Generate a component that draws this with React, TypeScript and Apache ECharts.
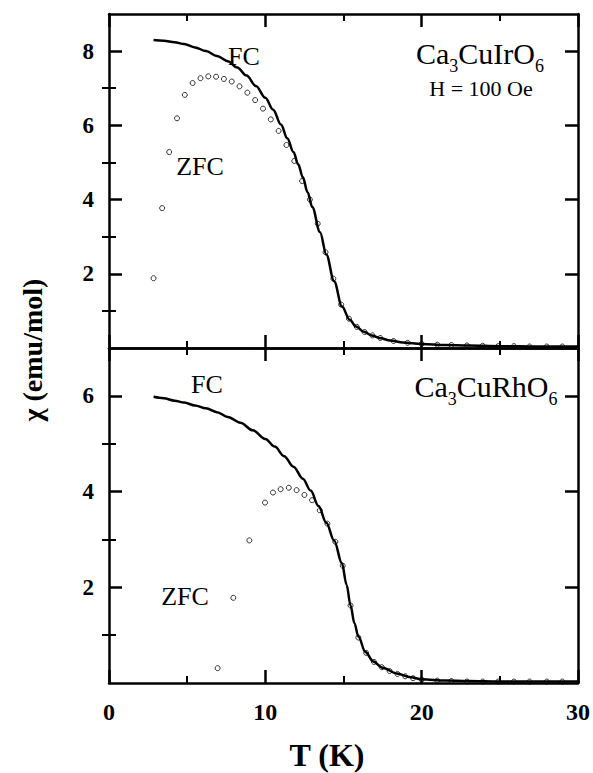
import React, { useEffect, useRef } from "react";
import * as echarts from "echarts";

// Ca3CuIrO6 (upper panel): field-cooled curve and zero-field-cooled points
const fcIrT = [2.85, 3.5, 4.2, 4.8, 5.5, 6.2, 6.9, 7.6, 8.2, 8.8, 9.4, 10.0, 10.5, 11.0, 11.4, 11.8, 12.1, 12.4, 12.7, 13.0, 13.5, 13.9, 14.4, 14.9, 15.4, 15.8, 16.3, 16.8, 17.3, 18.0, 18.8, 20.0, 21.5, 23.0, 25.0, 27.5, 30.0];
const fcIrChi = [8.3, 8.28, 8.24, 8.19, 8.1, 8.0, 7.87, 7.73, 7.56, 7.34, 7.06, 6.74, 6.42, 6.02, 5.65, 5.28, 4.95, 4.6, 4.2, 3.8, 3.12, 2.52, 1.8, 1.12, 0.76, 0.58, 0.44, 0.34, 0.27, 0.2, 0.15, 0.11, 0.08, 0.07, 0.05, 0.04, 0.04];
const zfcIrT = [2.85, 3.4, 3.85, 4.35, 4.85, 5.35, 5.85, 6.35, 6.85, 7.35, 7.85, 8.35, 8.85, 9.35, 9.85, 10.35, 10.85, 11.35, 11.85, 12.35, 12.85, 13.35, 13.85, 14.35, 14.85, 15.35, 15.85, 16.35, 16.85, 17.35, 18.2, 19.1, 20.0, 21.0, 21.9, 22.9, 23.9, 24.9, 25.9, 26.9, 28.0, 29.0];
const zfcIrChi = [1.88, 3.77, 5.28, 6.19, 6.82, 7.14, 7.27, 7.32, 7.31, 7.25, 7.18, 7.05, 6.88, 6.68, 6.45, 6.16, 5.85, 5.47, 5.04, 4.5, 4.0, 3.35, 2.58, 1.87, 1.17, 0.79, 0.57, 0.43, 0.34, 0.27, 0.19, 0.14, 0.11, 0.09, 0.08, 0.07, 0.06, 0.05, 0.05, 0.04, 0.04, 0.04];

// Ca3CuRhO6 (lower panel)
const fcRhT = [2.85, 3.5, 4.2, 4.8, 5.5, 6.2, 6.9, 7.6, 8.4, 9.2, 10.0, 10.6, 11.2, 11.8, 12.4, 12.9, 13.4, 13.9, 14.4, 14.9, 15.2, 15.45, 15.7, 15.95, 16.4, 16.9, 17.5, 18.4, 19.3, 20.0, 21.5, 23.0, 25.0, 27.5, 30.0];
const fcRhChi = [5.98, 5.95, 5.9, 5.86, 5.8, 5.74, 5.66, 5.56, 5.44, 5.28, 5.1, 4.94, 4.74, 4.52, 4.27, 4.02, 3.7, 3.35, 2.98, 2.5, 2.05, 1.62, 1.25, 0.97, 0.65, 0.45, 0.32, 0.2, 0.12, 0.08, 0.05, 0.04, 0.03, 0.03, 0.03];
const zfcRhT = [6.95, 7.95, 8.98, 9.98, 10.49, 10.98, 11.5, 12.0, 12.5, 12.99, 13.48, 13.97, 14.48, 14.95, 15.45, 15.95, 16.45, 16.95, 17.45, 17.95, 18.45, 18.95, 19.45, 20.0, 21.0, 21.9, 22.9, 23.9, 24.9, 25.9, 26.9, 28.0, 29.0];
const zfcRhChi = [0.31, 1.78, 2.98, 3.77, 3.98, 4.05, 4.08, 4.03, 3.93, 3.82, 3.61, 3.33, 2.95, 2.45, 1.62, 0.95, 0.63, 0.44, 0.33, 0.25, 0.19, 0.14, 0.1, 0.07, 0.05, 0.04, 0.03, 0.03, 0.03, 0.03, 0.03, 0.03, 0.03];

// Axis ranges and labelled ticks
const tRange = [0, 30];
const chiMaxIr = 9;
const chiMaxRh = 7;
const chiLabelsIr = [2, 4, 6, 8];
const chiLabelsRh = [2, 4, 6];
const chiMinorIr = [1, 3, 5, 7];
const chiMinorRh = [1, 3, 5];

const SERIF = "'Liberation Serif', 'Times New Roman', serif";
const INK = "#000";

const zip = (xs: number[], ys: number[]) => xs.map((x, i) => [x, ys[i]]);

function xAxisFor(gridIndex: number, position: "top" | "bottom", labels: boolean) {
  return {
    type: "value",
    gridIndex,
    position,
    min: tRange[0],
    max: tRange[1],
    interval: 10,
    axisLine: { show: true, onZero: false, lineStyle: { color: INK, width: 2.5 } },
    axisTick: { show: true, inside: true, length: 13, lineStyle: { color: INK, width: 2.5 } },
    minorTick: { show: true, splitNumber: 2, length: 7, lineStyle: { color: INK, width: 2 } },
    splitLine: { show: false },
    minorSplitLine: { show: false },
    axisLabel: {
      show: labels,
      margin: 17,
      color: INK,
      fontFamily: SERIF,
      fontWeight: "bold",
      fontSize: 24,
    },
  };
}

function yAxesFor(gridIndex: number, max: number, labels: number[], minor: number[]) {
  const out: any[] = [];
  (["left", "right"] as const).forEach((position) => {
    out.push({
      type: "value",
      gridIndex,
      position,
      min: 0,
      max,
      axisLine: { show: true, onZero: false, lineStyle: { color: INK, width: 2.5 } },
      axisTick: {
        show: true,
        inside: true,
        length: 13,
        customValues: labels,
        lineStyle: { color: INK, width: 2.5 },
      },
      splitLine: { show: false },
      axisLabel: {
        show: position === "left",
        customValues: labels,
        margin: 15,
        color: INK,
        fontFamily: SERIF,
        fontWeight: "bold",
        fontSize: 23,
      },
    });
    out.push({
      type: "value",
      gridIndex,
      position,
      min: 0,
      max,
      axisLine: { show: false },
      axisTick: {
        show: true,
        inside: true,
        length: 7,
        customValues: minor,
        lineStyle: { color: INK, width: 2 },
      },
      splitLine: { show: false },
      axisLabel: { show: false },
    });
  });
  return out;
}

function fcSeries(xi: number, yi: number, data: number[][]) {
  return {
    type: "line",
    xAxisIndex: xi,
    yAxisIndex: yi,
    data,
    showSymbol: false,
    smooth: 0.35,
    smoothMonotone: "x",
    lineStyle: { color: INK, width: 2.5 },
    z: 3,
  };
}

function zfcSeries(xi: number, yi: number, data: number[][]) {
  return {
    type: "scatter",
    xAxisIndex: xi,
    yAxisIndex: yi,
    data,
    symbol: "circle",
    symbolSize: 5,
    itemStyle: { color: "rgba(0,0,0,0)", borderColor: INK, borderWidth: 1 },
    z: 4,
  };
}

function label(text: string, x: number, y: number, fontSize: number, extra: any = {}) {
  return {
    type: "text",
    x,
    y,
    style: {
      text,
      fill: INK,
      fontFamily: SERIF,
      fontSize,
      align: "center",
      verticalAlign: "middle",
      textAlign: "center",
      textVerticalAlign: "middle",
      ...extra,
    },
  };
}

const formulaRich = {
  b: { fontFamily: SERIF, fontSize: 30, color: INK },
  s: { fontFamily: SERIF, fontSize: 18, color: INK, padding: [26, 0, 0, 0] },
};

export default function App() {
  const ref = useRef<HTMLDivElement>(null);

  useEffect(() => {
    if (!ref.current) return;
    const chart = echarts.init(ref.current, null, { renderer: "svg" });
    chart.setOption({
      animation: false,
      backgroundColor: "#fff",
      grid: [
        { left: 109, top: 14, width: 469, height: 334 },
        { left: 109, top: 348, width: 469, height: 335 },
      ],
      xAxis: [
        xAxisFor(0, "bottom", false),
        xAxisFor(0, "top", false),
        xAxisFor(1, "bottom", true),
        xAxisFor(1, "top", false),
      ],
      yAxis: [
        ...yAxesFor(0, chiMaxIr, chiLabelsIr, chiMinorIr),
        ...yAxesFor(1, chiMaxRh, chiLabelsRh, chiMinorRh),
      ],
      series: [
        fcSeries(0, 0, zip(fcIrT, fcIrChi)),
        zfcSeries(0, 0, zip(zfcIrT, zfcIrChi)),
        fcSeries(2, 4, zip(fcRhT, fcRhChi)),
        zfcSeries(2, 4, zip(zfcRhT, zfcRhChi)),
      ],
      graphic: [
        label("FC", 244, 56, 26),
        label("ZFC", 200, 166, 26),
        {
          type: "text",
          x: 480,
          y: 53,
          style: {
            text: "{b|Ca}{s|3}{b|CuIrO}{s|6}",
            rich: formulaRich,
            align: "center",
            verticalAlign: "middle",
            textAlign: "center",
            textVerticalAlign: "middle",
          },
        },
        label("H = 100 Oe", 481, 88, 22),
        label("FC", 207, 384, 26),
        label("ZFC", 185, 596, 26),
        {
          type: "text",
          x: 486,
          y: 386,
          style: {
            text: "{b|Ca}{s|3}{b|CuRhO}{s|6}",
            rich: formulaRich,
            align: "center",
            verticalAlign: "middle",
            textAlign: "center",
            textVerticalAlign: "middle",
          },
        },
        label("T (K)", 327, 755, 32, { fontWeight: "bold" }),
        {
          type: "text",
          x: 32,
          y: 350,
          rotation: Math.PI / 2,
          style: {
            text: "χ (emu/mol)",
            fill: INK,
            fontFamily: SERIF,
            fontWeight: "bold",
            fontSize: 28,
            align: "center",
            verticalAlign: "middle",
            textAlign: "center",
            textVerticalAlign: "middle",
          },
        },
      ],
    });
    return () => chart.dispose();
  }, []);

  return (
    <div
      ref={ref}
      style={{ position: "fixed", left: 0, top: 0, width: 593, height: 773, background: "#fff" }}
    />
  );
}
